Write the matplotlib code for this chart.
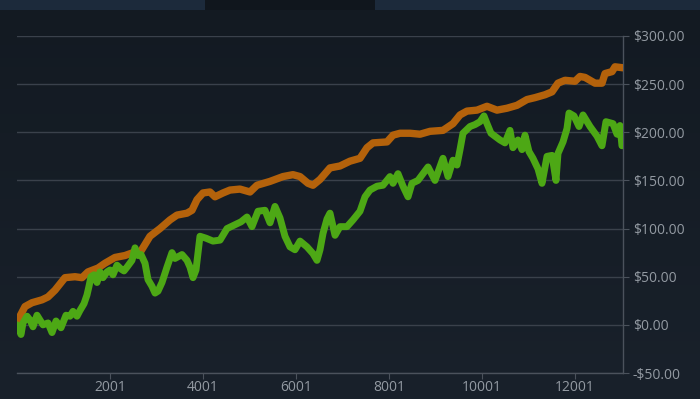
import matplotlib
matplotlib.use("Agg")
import matplotlib.pyplot as plt
import numpy as np
from matplotlib.ticker import FuncFormatter
from matplotlib.colors import LinearSegmentedColormap

plt.rcParams['font.family'] = ['Open Sans', 'DejaVu Sans']

# ---- data ----
orange_x = [1, 22, 173, 324, 539, 668, 818, 1033, 1248, 1399, 1528, 1743, 1893, 2108, 2323,
            2495, 2646, 2861, 3076, 3291, 3442, 3657, 3764, 3872, 4001, 4151, 4259, 4431,
            4581, 4796, 5012, 5162, 5442, 5721, 5936, 6087, 6259, 6366, 6517, 6732, 6947,
            7162, 7377, 7528, 7657, 7958, 8087, 8238, 8453, 8668, 8883, 9162, 9377, 9528,
            9678, 9893, 10108, 10323, 10538, 10753, 10968, 11140, 11356, 11506, 11635,
            11786, 12001, 12108, 12216, 12431, 12581, 12646, 12797, 12861, 13033]
orange_y = [2, 5, 19, 23, 26, 29, 36, 49, 50, 49, 55, 59, 64, 70, 72,
            75, 75, 92, 100, 109, 114, 116, 119, 130, 137, 138, 133, 137,
            140, 141, 138, 145, 149, 154, 156, 154, 147, 145, 151, 163, 165,
            170, 173, 184, 189, 190, 197, 199, 199, 198, 201, 202, 209, 218,
            222, 223, 227, 223, 225, 228, 234, 236, 239, 242, 251,
            254, 253, 258, 257, 251, 251, 261, 263, 268, 267]

green_x = [1, 22, 87, 130, 216, 281, 345, 431, 560, 668, 754, 840, 947, 1055, 1141, 1205,
           1291, 1356, 1442, 1506, 1549, 1592, 1657, 1721, 1786, 1850, 1936, 2001, 2065,
           2151, 2237, 2302, 2367, 2474, 2539, 2603, 2668, 2754, 2818, 2904, 2969, 3033,
           3119, 3227, 3334, 3399, 3549, 3657, 3721, 3786, 3850, 3893, 3936, 4066, 4216,
           4367, 4517, 4689, 4818, 4947, 5054, 5184, 5334, 5442, 5549, 5657, 5764, 5872,
           5979, 6087, 6237, 6366, 6452, 6517, 6582, 6668, 6732, 6840, 6947, 7098, 7227,
           7377, 7485, 7592, 7743, 7872, 8022, 8087, 8194, 8302, 8410, 8495, 8624, 8732,
           8840, 8990, 9162, 9270, 9377, 9463, 9528, 9592, 9743, 9850, 9958, 10043, 10108,
           10194, 10388, 10495, 10603, 10667, 10775, 10861, 10925, 11011, 11097, 11205,
           11291, 11399, 11506, 11592, 11635, 11743, 11829, 11872, 11979, 12087, 12173,
           12324, 12474, 12581, 12667, 12818, 12904, 12968, 13011]
green_y = [0, -2, -10, 2, 9, 5, -2, 10, 0, 2, -8, 4, -3, 10, 9, 14,
           9, 15, 22, 31, 40, 50, 52, 44, 55, 49, 55, 57, 52,
           62, 58, 56, 60, 67, 80, 72, 73, 64, 47, 40, 33, 35,
           44, 60, 75, 69, 73, 67, 60, 49, 57, 75, 92, 90, 87,
           88, 100, 104, 107, 112, 102, 118, 119, 106, 123, 111, 92, 81,
           78, 87, 81, 74, 67, 78, 95, 110, 116, 93, 102, 102, 109,
           118, 133, 140, 144, 145, 154, 147, 157, 144, 133, 147, 150, 157,
           164, 150, 173, 154, 171, 166, 182, 199, 206, 208, 211, 217, 209,
           199, 192, 189, 202, 184, 192, 182, 197, 180, 173, 162,
           147, 175, 176, 150, 178, 190, 204, 220, 217, 206, 218,
           206, 196, 186, 211, 209, 198, 207, 186]

x_ticks = [2001, 4001, 6001, 8001, 10001, 12001]
y_ticks = [-50, 0, 50, 100, 150, 200, 250, 300]

# ---- style ----
BG = '#151c25'
GRID = '#3a414b'
AXIS = '#4b525c'
TXT = '#939aa2'
ORANGE = '#b4620b'
GREEN = '#4da815'

fig = plt.figure(figsize=(7.0, 3.99), dpi=100)
fig.patch.set_facecolor(BG)

# subtle vertical gradient background
bgax = fig.add_axes([0, 0, 1, 1], zorder=-10)
grad = np.linspace(0, 1, 256).reshape(-1, 1)
cmap = LinearSegmentedColormap.from_list('bg', ['#131a22', '#19212b'])
bgax.imshow(grad, aspect='auto', cmap=cmap, extent=[0, 1, 0, 1], origin='upper')
bgax.set_axis_off()
# top tab bars
bgax.add_patch(plt.Rectangle((0, 1 - 10 / 399), 205 / 700, 10 / 399, color='#1c2a3b', lw=0))
bgax.add_patch(plt.Rectangle((375 / 700, 1 - 10 / 399), 325 / 700, 10 / 399, color='#1c2a3b', lw=0))
bgax.add_patch(plt.Rectangle((205 / 700, 1 - 10 / 399), 170 / 700, 10 / 399, color='#10161d', lw=0))
bgax.set_xlim(0, 1)
bgax.set_ylim(0, 1)

ax = fig.add_axes([17 / 700, 26 / 399, (623 - 17) / 700, (373 - 36) / 399])
ax.set_facecolor('none')

ax.plot(orange_x, orange_y, color=ORANGE, lw=5.3, solid_capstyle='round',
        solid_joinstyle='round', zorder=3)
ax.plot(green_x, green_y, color=GREEN, lw=5.0, solid_capstyle='round',
        solid_joinstyle='round', zorder=4)

ax.set_xlim(1, 13033)
ax.set_ylim(-50, 300)

ax.set_yticks(y_ticks)
ax.set_xticks(x_ticks)
ax.yaxis.tick_right()
ax.yaxis.set_major_formatter(FuncFormatter(lambda v, p: f"-${abs(v):.2f}" if v < 0 else f"${v:.2f}"))
ax.set_xticklabels([str(t) for t in x_ticks])

ax.grid(axis='y', color=GRID, lw=1.0)
ax.set_axisbelow(True)

for s in ['top', 'left']:
    ax.spines[s].set_visible(False)
ax.spines['right'].set_color(AXIS)
ax.spines['bottom'].set_color(AXIS)
ax.spines['right'].set_linewidth(1.0)
ax.spines['bottom'].set_linewidth(1.0)

ax.tick_params(axis='y', colors=AXIS, labelcolor=TXT, length=4, width=0.8,
               direction='out', pad=3, labelsize=10)
ax.tick_params(axis='x', colors=AXIS, labelcolor=TXT, length=4, width=0.8,
               direction='out', pad=1, labelsize=10)

fig.savefig('out.png', dpi=100, facecolor=BG)
